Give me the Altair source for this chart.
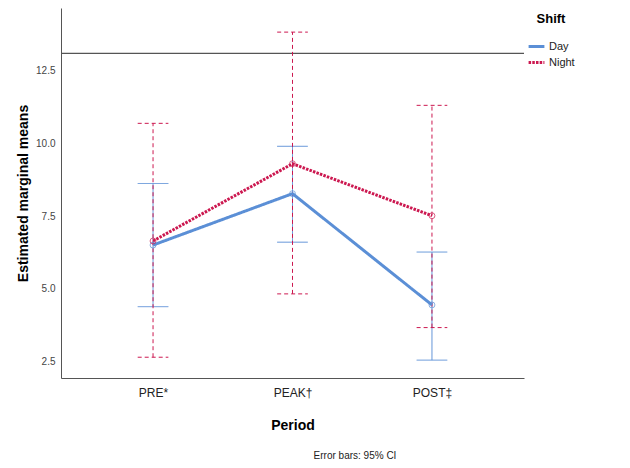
import altair as alt
import pandas as pd

periods = ["PRE*", "PEAK†", "POST‡"]
shifts = ["Day", "Night"]
day_mean = [6.50, 8.27, 4.44]
day_lo = [4.38, 6.60, 2.54]
day_hi = [8.62, 9.90, 6.26]
night_mean = [6.64, 9.30, 7.51]
night_lo = [2.64, 4.82, 3.66]
night_hi = [10.69, 13.83, 11.31]
ref_line = 13.1
footnote = "Error bars: 95% CI"

rows = []
for i, p in enumerate(periods):
    rows.append({"idx": i, "Period": p, "Shift": "Day", "mean": day_mean[i], "lo": day_lo[i], "hi": day_hi[i]})
    rows.append({"idx": i, "Period": p, "Shift": "Night", "mean": night_mean[i], "lo": night_lo[i], "hi": night_hi[i]})
df = pd.DataFrame(rows)

BLUE = "#5B8FD6"
RED = "#CC1850"
FONT = "Liberation Sans"
CAP = 0.11

xscale = alt.Scale(domain=[-0.66, 2.66], nice=False, zero=False)
yscale = alt.Scale(domain=[1.925, 14.66], nice=False, zero=False)

label_expr = "datum.value == 0 ? 'PRE*' : datum.value == 1 ? 'PEAK†' : 'POST‡'"

xenc = alt.X("idx:Q", scale=xscale, title="Period",
             axis=alt.Axis(values=[0, 1, 2], labelExpr=label_expr, grid=False, ticks=False,
                           labelFontSize=12, labelColor="#222", labelPadding=9,
                           titleFontSize=14, titleFontWeight="bold", titlePadding=20,
                           titleColor="#000", domainColor="#555", labelFont=FONT, titleFont=FONT))
yenc = alt.Y("mean:Q", scale=yscale, title="Estimated marginal means",
             axis=alt.Axis(values=[2.5, 5.0, 7.5, 10.0, 12.5], format=".1f", grid=False, ticks=False,
                           labelFontSize=10, labelColor="#444", labelPadding=6,
                           titleFontSize=14, titleFontWeight="bold", titlePadding=5,
                           titleColor="#000", domainColor="#555", labelFont=FONT, titleFont=FONT))

base = alt.Chart(df)

ref = alt.Chart(pd.DataFrame({"v": [ref_line]})).mark_rule(color="#555", strokeWidth=1.2).encode(
    y=alt.Y("v:Q", scale=yscale))

def errbars(shift, color, dash):
    d = base.transform_filter(alt.datum.Shift == shift).transform_calculate(
        xl=alt.datum.idx - CAP, xr=alt.datum.idx + CAP)
    vert = d.mark_rule(color=color, strokeWidth=1, strokeDash=dash).encode(
        x=alt.X("idx:Q", scale=xscale), y=alt.Y("lo:Q", scale=yscale), y2="hi:Q")
    top = d.mark_rule(color=color, strokeWidth=1, strokeDash=dash).encode(
        x=alt.X("xl:Q", scale=xscale), x2="xr:Q", y=alt.Y("hi:Q", scale=yscale))
    bot = d.mark_rule(color=color, strokeWidth=1, strokeDash=dash).encode(
        x=alt.X("xl:Q", scale=xscale), x2="xr:Q", y=alt.Y("lo:Q", scale=yscale))
    return vert + top + bot

lines = base.mark_line(strokeWidth=3).encode(
    x=xenc, y=yenc,
    color=alt.Color("Shift:N", scale=alt.Scale(domain=shifts, range=[BLUE, RED]),
                    legend=alt.Legend(title="Shift", orient="none", legendX=466, legendY=5,
                                      titleFontSize=13, titleFontWeight="bold", titleFont=FONT,
                                      labelFontSize=11, labelFont=FONT, labelColor="#222",
                                      symbolType="stroke", symbolStrokeWidth=3, symbolSize=250,
                                      titlePadding=11, rowPadding=0, labelOffset=3,
                                      padding=0, offset=0, titleAnchor="middle")),
    strokeDash=alt.StrokeDash("Shift:N", scale=alt.Scale(domain=shifts, range=[[1, 0], [2.5, 1.2]]),
                              legend=alt.Legend(title="Shift")),
    detail="Shift:N")

points = base.mark_point(size=35, strokeWidth=1, filled=False).encode(
    x=alt.X("idx:Q", scale=xscale), y=alt.Y("mean:Q", scale=yscale),
    color=alt.Color("Shift:N", scale=alt.Scale(domain=shifts, range=[BLUE, RED]), legend=None))

note = alt.Chart(pd.DataFrame({"t": [footnote]})).mark_text(
    fontSize=10, font=FONT, color="#222", align="center", baseline="middle").encode(
    text="t:N", x=alt.value(294), y=alt.value(448))

chart = alt.layer(
    ref,
    errbars("Day", BLUE, [1, 0]),
    errbars("Night", RED, [4, 3]),
    lines,
    points,
    note,
).properties(
    width=463, height=370,
    background="white",
    autosize=alt.AutoSizeParams(type="none"),
    padding={"left": 53, "top": 0, "right": 90, "bottom": 82},
).configure_view(strokeWidth=0, stroke="transparent")

chart.save("out.html", embed_options={"renderer": "svg", "actions": False})
